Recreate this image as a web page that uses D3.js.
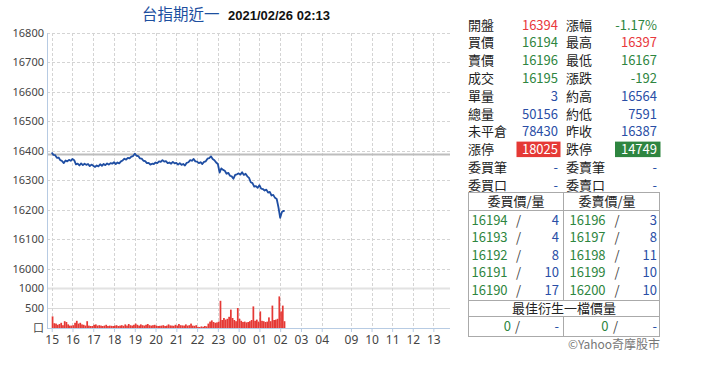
<!DOCTYPE html>
<html>
<head>
<meta charset="utf-8">
<script src="https://cdn.jsdelivr.net/npm/d3@7/dist/d3.min.js"></script>
<style>
body { margin: 0; background: #fff; }
svg text { font-family: "Noto Sans CJK TC", "Noto Sans", sans-serif; }
</style>
</head>
<body>
<svg id="chart" width="720" height="383"></svg>
<script>
// ---- data ----
var title = "台指期近一";
var stamp = "2021/02/26 02:13";
var prevClose = 16387;
var priceTicks = [16000, 16100, 16200, 16300, 16400, 16500, 16600, 16700, 16800];
var volTicks = [0, 500, 1000];
var hourLabels = ["15", "16", "17", "18", "19", "20", "21", "22", "23", "00", "01", "02", "03", "04", "09", "10", "11", "12", "13"];
var stepMin = 5; // one sample every 5 minutes from 15:00

var prices = [
  16394, 16386, 16385, 16376, 16377, 16368, 16365, 16358, 16367, 16364, 16369, 16366,
  16372, 16368, 16354, 16356, 16350, 16357, 16351, 16356, 16352, 16355, 16348, 16353,
  16349, 16345, 16350, 16347, 16354, 16349, 16355, 16351, 16357, 16353, 16358, 16356,
  16361, 16355, 16360, 16357, 16364, 16367, 16373, 16370, 16376, 16374, 16380, 16382,
  16390, 16383, 16382, 16374, 16373, 16366, 16365, 16358, 16359, 16353, 16356, 16355,
  16360, 16358, 16364, 16362, 16368, 16363, 16365, 16358, 16360, 16356, 16362, 16357,
  16359, 16353, 16358, 16352, 16355, 16350, 16359, 16361, 16368, 16366, 16372, 16364,
  16363, 16358, 16361, 16355, 16362, 16364, 16373, 16375, 16381, 16372, 16368, 16360,
  16355, 16326, 16340, 16335, 16332, 16322, 16325, 16315, 16313, 16305, 16318, 16320,
  16323, 16319, 16327, 16318, 16322, 16313, 16308, 16293, 16290, 16278, 16280, 16274,
  16283, 16271, 16270, 16265, 16268, 16258, 16260, 16248, 16250, 16240, 16236, 16208,
  16172, 16192, 16196, 16195
];
var volumes = [
  290, 120, 110, 80, 100, 130, 70, 170, 150, 90, 60, 60,
  70, 130, 180, 110, 130, 90, 80, 60, 170, 60, 50, 50,
  80, 90, 60, 70, 60, 50, 60, 80, 50, 60, 55, 50,
  60, 70, 50, 60, 70, 55, 90, 60, 100, 70, 60, 80,
  110, 80, 60, 90, 70, 60, 80, 100, 70, 60, 70, 80,
  60, 50, 55, 60, 70, 50, 60, 90, 65, 60, 55, 80,
  60, 100, 70, 65, 60, 90, 60, 70, 110, 60, 55, 70,
  30, 25, 40, 30, 50, 40, 110, 160, 190, 150, 130, 140,
  160, 680, 200, 250, 210, 230, 280, 460, 250, 200, 170, 500,
  230, 180, 150, 160, 140, 150, 170, 200, 540, 180, 210, 160,
  415, 180, 170, 150, 160, 265, 170, 560, 200, 210, 230, 790,
  415, 560, 170
];

var quoteLabels = [["開盤", "漲幅"], ["買價", "最高"], ["賣價", "最低"], ["成交", "漲跌"], ["單量", "約高"],
  ["總量", "約低"], ["未平倉", "昨收"], ["漲停", "跌停"], ["委買筆", "委賣筆"], ["委買口", "委賣口"]];
var quoteValues = [["16394", "-1.17%"], ["16194", "16397"], ["16196", "16167"], ["16195", "-192"], ["3", "16564"],
  ["50156", "7591"], ["78430", "16387"], ["18025", "14749"], ["-", "-"], ["-", "-"]];
var quoteKinds = [["up", "down"], ["down", "up"], ["down", "down"], ["down", "down"], ["vol", "vol"],
  ["vol", "vol"], ["vol", "vol"], ["limitUp", "limitDown"], ["vol", "vol"], ["vol", "vol"]];

var bidPrices = [16194, 16193, 16192, 16191, 16190];
var bidQty = [4, 4, 8, 10, 17];
var askPrices = [16196, 16197, 16198, 16199, 16200];
var askQty = [3, 8, 11, 10, 10];
var bookHeaders = ["委買價/量", "委賣價/量"];
var bestHeader = "最佳衍生一檔價量";
var bestBid = ["0", "-"], bestAsk = ["0", "-"];

// ---- helpers ----
function sessionMin(hh, mm) {
  var h = +hh;
  return (h >= 15 ? h - 15 : h + 9) * 60 + (+mm || 0);
}
var lastMin = sessionMin(stamp.slice(11, 13), stamp.slice(14, 16));

var svg = d3.select("#chart");
var left = 47, right = 450;

var x = d3.scaleLinear()
  .domain([0, sessionMin("05"), sessionMin("08", "45"), sessionMin("13", "45")])
  .range([51.7, 342.5, 345.8, 448.8]);
var y = d3.scaleLinear().domain([16000, 16800]).range([268.5, 33]);
var yv = d3.scaleLinear().domain([0, 1000]).range([328, 288]);

var colors = { up: "#e8383d", down: "#2e8540", vol: "#2a4ea6", text: "#222" };

// ---- grid ----
var grid = svg.append("g");
grid.selectAll("line.h").data(priceTicks).enter().append("line")
  .attr("x1", left).attr("x2", right)
  .attr("y1", function(d) { return Math.round(y(d)) + 0.5; })
  .attr("y2", function(d) { return Math.round(y(d)) + 0.5; })
  .attr("stroke", "#d4d4d4").attr("stroke-dasharray", "3,2");
grid.selectAll("line.v").data(volTicks.slice(1)).enter().append("line")
  .attr("x1", left).attr("x2", right)
  .attr("y1", function(d) { return Math.round(yv(d)) + 0.5; })
  .attr("y2", function(d) { return Math.round(yv(d)) + 0.5; })
  .attr("stroke", function(d) { return d === 1000 ? "#e2e2e2" : "#dadada"; })
  .attr("stroke-width", function(d) { return d === 1000 ? 2 : 1; });
grid.selectAll("line.t").data(hourLabels).enter().append("line")
  .attr("x1", function(d) { return Math.round(x(sessionMin(d))) + 0.5; })
  .attr("x2", function(d) { return Math.round(x(sessionMin(d))) + 0.5; })
  .attr("y1", 33).attr("y2", 328)
  .attr("stroke", "#d4d4d4").attr("stroke-dasharray", "3,2");

// previous close reference
svg.append("line").attr("x1", left).attr("x2", right)
  .attr("y1", y(prevClose)).attr("y2", y(prevClose))
  .attr("stroke", "#bdbdbd").attr("stroke-width", 2);

// ---- volume bars ----
var barW = x(stepMin) - x(0);
svg.append("g").selectAll("rect").data(volumes).enter().append("rect")
  .attr("x", function(d, i) { return x(i * stepMin); })
  .attr("width", barW)
  .attr("y", function(d) { return yv(d); })
  .attr("height", function(d) { return yv(0) - yv(d); })
  .attr("fill", "#e53935");

// ---- price line ----
var line = d3.line()
  .x(function(d, i) { return x(i === prices.length - 1 ? lastMin : i * stepMin); })
  .y(function(d) { return y(d); });
svg.append("path").datum(prices).attr("d", line)
  .attr("fill", "none").attr("stroke", "#1f4ea3").attr("stroke-width", 1.8)
  .attr("stroke-linejoin", "round");

// ---- axes ----
var axisColor = "#b7cbe3";
svg.append("line").attr("x1", left + 0.5).attr("x2", left + 0.5).attr("y1", 33).attr("y2", 328.5)
  .attr("stroke", axisColor);
var xAxis = d3.axisBottom(x)
  .tickValues(hourLabels.map(function(d) { return sessionMin(d); }))
  .tickFormat(function(d, i) { return hourLabels[i]; })
  .tickSize(4).tickPadding(3);
var gx = svg.append("g").attr("transform", "translate(0,328)").call(xAxis);
gx.select(".domain").attr("d", "M" + left + ",0.5H" + right).attr("stroke", axisColor);
gx.selectAll(".tick line").attr("stroke", axisColor);
gx.selectAll(".tick text").attr("fill", "#444").style("font-size", "12px")
  .style("font-family", "'Noto Sans', sans-serif");

var yAxis = d3.axisLeft(y).tickValues(priceTicks).tickSize(0).tickPadding(3).tickFormat(d3.format("d"));
var gy = svg.append("g").attr("transform", "translate(" + left + ",0)").call(yAxis);
gy.select(".domain").remove();
var yvAxis = d3.axisLeft(yv).tickValues(volTicks).tickSize(0).tickPadding(3)
  .tickFormat(function(d) { return d === 0 ? "口" : d; });
var gyv = svg.append("g").attr("transform", "translate(" + left + ",0)").call(yvAxis);
gyv.select(".domain").remove();
[gy, gyv].forEach(function(g) {
  g.selectAll(".tick text").attr("fill", "#444").style("font-size", "11px")
    .style("font-family", "'Noto Sans', 'Noto Sans CJK TC', sans-serif");
});

// ---- title ----
svg.append("text").attr("x", 142).attr("y", 20).text(title)
  .attr("fill", "#1d4f9f").style("font-size", "15.5px");
svg.append("text").attr("x", 228).attr("y", 20).text(stamp)
  .attr("fill", "#111").style("font-size", "13px").style("font-weight", "bold")
  .style("font-family", "'Liberation Sans', Arial, sans-serif");

// ---- quote table ----
var q = svg.append("g").style("font-size", "13px");
var rowY = function(i) { return 25 + 17.8 * i; };
quoteLabels.forEach(function(pair, i) {
  [0, 1].forEach(function(c) {
    var lx = c === 0 ? 468 : 566, vx = c === 0 ? 558 : 657;
    var kind = quoteKinds[i][c];
    q.append("text").attr("x", lx).attr("y", rowY(i) + 4.5).text(pair[c]).attr("fill", colors.text);
    if (kind === "limitUp" || kind === "limitDown") {
      q.append("rect").attr("x", c === 0 ? 516.5 : 615).attr("y", rowY(i) - 8)
        .attr("width", c === 0 ? 44 : 45.5).attr("height", 15.5)
        .attr("fill", kind === "limitUp" ? "#e53935" : "#2e8540");
    }
    q.append("text").attr("x", vx).attr("y", rowY(i) + 4.5).attr("text-anchor", "end")
      .text(quoteValues[i][c])
      .attr("fill", kind === "limitUp" || kind === "limitDown" ? "#fff" : colors[kind]);
  });
});

// ---- order book ----
var b = svg.append("g").style("font-size", "13px");
var bx0 = 468.5, bx1 = 659.5, bmid = 563.5, by0 = 192.5, by1 = 336.5;
var bookRowY = [220, 237.5, 255, 272.5, 290];
b.append("rect").attr("x", bx0).attr("y", by0).attr("width", bx1 - bx0).attr("height", by1 - by0)
  .attr("fill", "none").attr("stroke", "#aaa");
[210.5, 300.5, 316.5].forEach(function(yy) {
  b.append("line").attr("x1", bx0).attr("x2", bx1).attr("y1", yy).attr("y2", yy).attr("stroke", "#aaa");
});
[[by0, 300.5], [316.5, by1]].forEach(function(s) {
  b.append("line").attr("x1", bmid).attr("x2", bmid).attr("y1", s[0]).attr("y2", s[1]).attr("stroke", "#aaa");
});
b.append("text").attr("x", 516).attr("y", 206).attr("text-anchor", "middle").text(bookHeaders[0]).attr("fill", colors.text);
b.append("text").attr("x", 607).attr("y", 206).attr("text-anchor", "middle").text(bookHeaders[1]).attr("fill", colors.text);
bidPrices.forEach(function(p, i) {
  var yy = bookRowY[i] + 4.5;
  b.append("text").attr("x", 471.5).attr("y", yy).text(p).attr("fill", colors.down);
  b.append("text").attr("x", 516).attr("y", yy).text("/").attr("fill", "#444");
  b.append("text").attr("x", 559).attr("y", yy).attr("text-anchor", "end").text(bidQty[i]).attr("fill", colors.vol);
  b.append("text").attr("x", 569.5).attr("y", yy).text(askPrices[i]).attr("fill", colors.down);
  b.append("text").attr("x", 614.5).attr("y", yy).text("/").attr("fill", "#444");
  b.append("text").attr("x", 657).attr("y", yy).attr("text-anchor", "end").text(askQty[i]).attr("fill", colors.vol);
});
b.append("text").attr("x", 564).attr("y", 313).attr("text-anchor", "middle").text(bestHeader).attr("fill", colors.text);
b.append("text").attr("x", 511).attr("y", 330.5).attr("text-anchor", "end").text(bestBid[0]).attr("fill", colors.down);
b.append("text").attr("x", 515).attr("y", 330.5).text("/").attr("fill", "#444");
b.append("text").attr("x", 559).attr("y", 330.5).attr("text-anchor", "end").text(bestBid[1]).attr("fill", colors.vol);
b.append("text").attr("x", 608.5).attr("y", 330.5).attr("text-anchor", "end").text(bestAsk[0]).attr("fill", colors.down);
b.append("text").attr("x", 613).attr("y", 330.5).text("/").attr("fill", "#444");
b.append("text").attr("x", 657).attr("y", 330.5).attr("text-anchor", "end").text(bestAsk[1]).attr("fill", colors.vol);

svg.append("text").attr("x", 660).attr("y", 348.5).attr("text-anchor", "end")
  .text("©Yahoo奇摩股市").attr("fill", "#777").style("font-size", "12px");
</script>
</body>
</html>
